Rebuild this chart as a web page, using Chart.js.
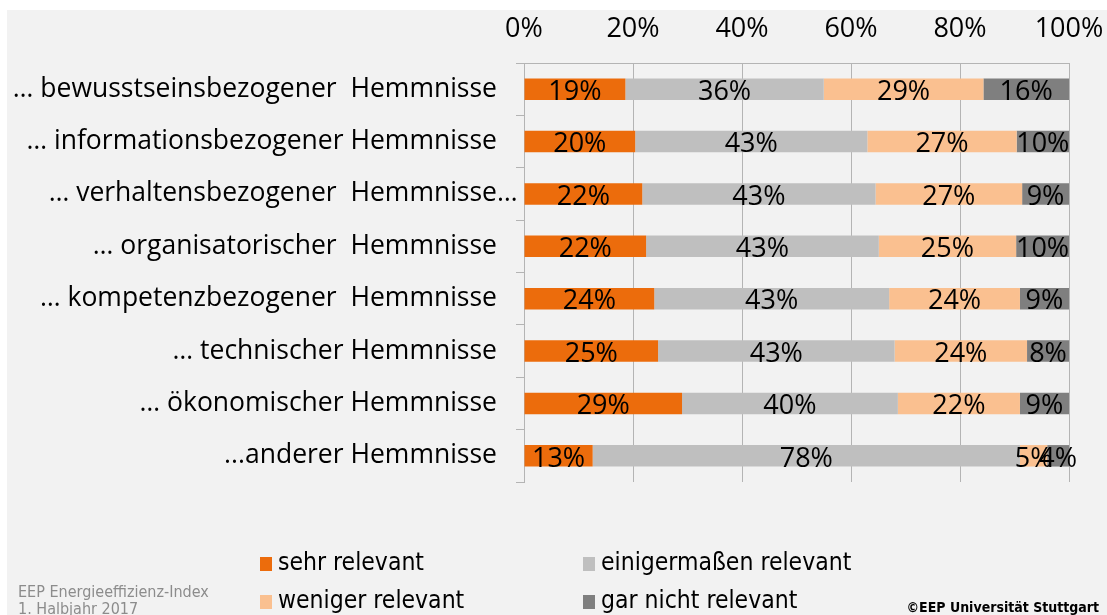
<!DOCTYPE html>
<html>
<head>
<meta charset="utf-8">
<script src="https://cdn.jsdelivr.net/npm/chart.js@4.4.1/dist/chart.umd.min.js"></script>
<style>
  html, body { margin: 0; padding: 0; background: #ffffff; }
  #wrap { width: 1107px; height: 615px; position: relative; }
</style>
</head>
<body>
<div id="wrap"><canvas id="c" width="1107" height="615"></canvas></div>
<script>
// ---- data ----
const categories = [
  "… bewusstseinsbezogener  Hemmnisse",
  "… informationsbezogener Hemmnisse",
  "… verhaltensbezogener  Hemmnisse…",
  "… organisatorischer  Hemmnisse",
  "… kompetenzbezogener  Hemmnisse",
  "… technischer Hemmnisse",
  "… ökonomischer Hemmnisse",
  "...anderer Hemmnisse"
];
const seriesNames = ["sehr relevant", "einigermaßen relevant", "weniger relevant", "gar nicht relevant"];
const sehrRelevant      = [18.6, 20.4, 21.7, 22.4, 23.9, 24.6, 29.0, 12.6];
const einigermassen     = [36.4, 42.6, 42.8, 42.7, 43.1, 43.4, 39.6, 78.4];
const wenigerRelevant   = [29.3, 27.4, 26.9, 25.2, 24.0, 24.3, 22.4, 5.0];
const garNichtRelevant  = [15.7, 9.6, 8.6, 9.7, 9.0, 7.7, 9.0, 4.0];
const xTicks = [0, 20, 40, 60, 80, 100];
const footerLeft = ["EEP Energieeffizienz-Index", "1. Halbjahr 2017"];
const footerRight = "©EEP Universität Stuttgart";

const colors = ["#EC6C0C", "#BFBFBF", "#FAC090", "#7F7F7F"];
const FONT = "'Open Sans', 'Noto Sans', sans-serif";
const CAT_SIZE = 26.5;

const bgPlugin = {
  id: 'bg',
  beforeDraw(chart) {
    const ctx = chart.ctx;
    ctx.save();
    ctx.fillStyle = '#ffffff';
    ctx.fillRect(0, 0, chart.width, chart.height);
    ctx.fillStyle = '#F2F2F2';
    ctx.fillRect(7, 10, chart.width - 7, chart.height - 10);
    ctx.restore();
  }
};

const labelPlugin = {
  id: 'vals',
  afterDatasetsDraw(chart) {
    const ctx = chart.ctx;
    ctx.save();
    ctx.font = "27px " + FONT;
    ctx.fillStyle = '#000';
    ctx.textAlign = 'center';
    ctx.textBaseline = 'middle';
    chart.data.datasets.forEach((ds, di) => {
      const meta = chart.getDatasetMeta(di);
      meta.data.forEach((bar, i) => {
        const v = ds.data[i];
        const cx = (bar.x + bar.base) / 2;
        ctx.fillText(Math.round(v) + '%', cx, bar.y + 3);
      });
    });
    ctx.restore();
  }
};

const extrasPlugin = {
  id: 'extras',
  afterDraw(chart) {
    const ctx = chart.ctx;
    ctx.save();
    // trailing ellipsis of truncated category labels
    const yScale = chart.scales.y;
    ctx.font = CAT_SIZE + "px " + FONT;
    ctx.fillStyle = '#000';
    ctx.textAlign = 'left';
    ctx.textBaseline = 'middle';
    categories.forEach((c, i) => {
      if (c.endsWith('…')) {
        ctx.fillText('…', 497, yScale.getPixelForValue(i));
      }
    });
    // legend 2x2
    const legendPos = [[260, 564], [583, 564], [260, 602], [583, 602]];
    ctx.font = "24.5px 'DejaVu Sans Condensed', " + FONT;
    ctx.textBaseline = 'middle';
    seriesNames.forEach((n, i) => {
      const [x, y] = legendPos[i];
      ctx.fillStyle = colors[i];
      ctx.fillRect(x, y - 7, 12, 14);
      ctx.fillStyle = '#000';
      ctx.fillText(n, x + 18, y);
    });
    // footers
    ctx.font = "16px 'DejaVu Sans Condensed', " + FONT;
    ctx.fillStyle = '#8C8C8C';
    ctx.textBaseline = 'alphabetic';
    ctx.fillText(footerLeft[0], 18, 597);
    ctx.fillText(footerLeft[1], 18, 614);
    ctx.font = "bold 14px 'DejaVu Sans Condensed', " + FONT;
    ctx.fillStyle = '#000';
    ctx.textAlign = 'right';
    ctx.fillText(footerRight, 1099, 612);
    ctx.restore();
  }
};

const datasets = [sehrRelevant, einigermassen, wenigerRelevant, garNichtRelevant].map((d, i) => ({
  label: seriesNames[i],
  data: d,
  backgroundColor: colors[i],
  borderWidth: 0,
  barPercentage: 0.41,
  categoryPercentage: 1.0
}));

new Chart(document.getElementById('c'), {
  type: 'bar',
  data: { labels: categories, datasets },
  options: {
    indexAxis: 'y',
    responsive: false,
    animation: false,
    layout: { padding: { left: 0, right: 38, top: 0, bottom: 133 } },
    plugins: { legend: { display: false }, tooltip: { enabled: false } },
    scales: {
      x: {
        position: 'top',
        stacked: true,
        min: 0, max: 100,
        afterBuildTicks(axis) { axis.ticks = xTicks.map(v => ({ value: v })); },
        afterFit(axis) { axis.height = 63; axis.paddingLeft = 0; axis.paddingRight = 0; },
        ticks: {
          callback: v => v + '%',
          color: '#000',
          font: { size: 27, family: FONT },
          padding: 17,
          maxRotation: 0
        },
        grid: { color: '#B4B4B4', drawTicks: false, lineWidth: 1 },
        border: { display: true, color: '#B4B4B4' }
      },
      y: {
        stacked: true,
        afterFit(axis) { axis.width = 524; axis.paddingTop = 0; axis.paddingBottom = 0; },
        ticks: {
          callback: function(v, i) { const s = categories[i]; return s.endsWith('…') ? s.slice(0, -1) : s; },
          color: '#000',
          font: { size: CAT_SIZE, family: FONT },
          padding: 19
        },
        grid: { drawOnChartArea: false, drawTicks: true, tickLength: 8, color: '#B4B4B4', offset: true },
        border: { display: true, color: '#B4B4B4' }
      }
    }
  },
  plugins: [bgPlugin, labelPlugin, extrasPlugin]
});
</script>
</body>
</html>
